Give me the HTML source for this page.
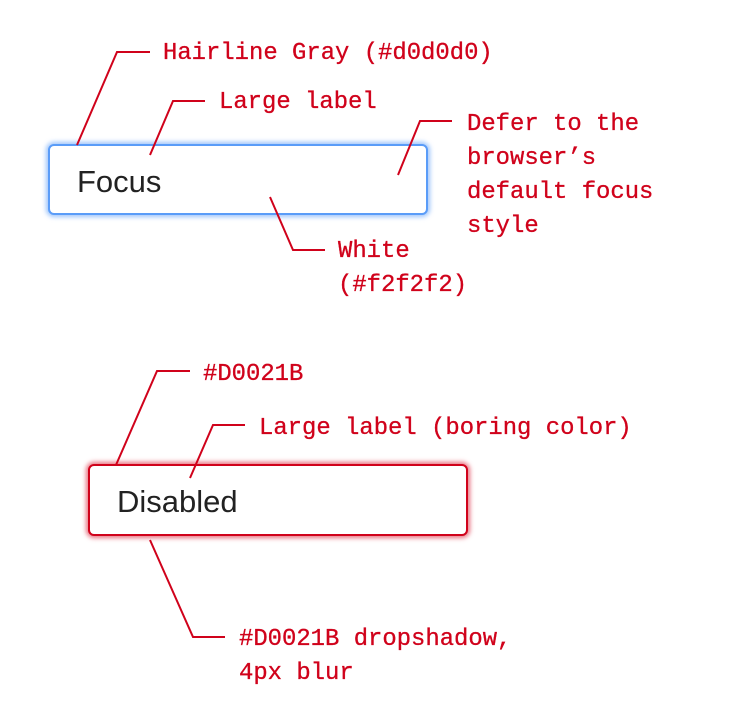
<!DOCTYPE html>
<html><head><meta charset="utf-8"><style>
html,body{margin:0;padding:0;background:#fff;}
svg{display:block}
.t{font-family:"Liberation Mono",monospace;font-size:23.9px;fill:#d0021b;stroke:#d0021b;stroke-width:0.3;}
.b{font-family:"Liberation Sans",Arial,sans-serif;font-size:31px;fill:#222;}
</style></head><body>
<svg width="740" height="718" viewBox="0 0 740 718" xmlns="http://www.w3.org/2000/svg">
<defs>
<filter id="gb" x="-10%" y="-30%" width="120%" height="160%"><feGaussianBlur stdDeviation="2.5"/></filter>
</defs>
<rect x="49" y="145" width="378" height="69" rx="5" fill="none" stroke="#9cc4fb" stroke-width="6" filter="url(#gb)"/>
<rect x="49" y="145" width="378" height="69" rx="5" fill="#fff" stroke="#5a9cf8" stroke-width="2"/>
<text class="b" x="77" y="192">Focus</text>
<rect x="89" y="465" width="378" height="70" rx="5" fill="none" stroke="#e8707f" stroke-width="6" filter="url(#gb)"/>
<rect x="89" y="465" width="378" height="70" rx="5" fill="#fff" stroke="#d0021b" stroke-width="2"/>
<text class="b" x="117" y="512">Disabled</text>
<g fill="none" stroke="#d0021b" stroke-width="2">
<polyline points="77,145 117,52 150,52"/>
<polyline points="150,155 173,101 205,101"/>
<polyline points="398,175 420,121 452,121"/>
<polyline points="270,197 293,250 325,250"/>
<polyline points="116,465 157,371 190,371"/>
<polyline points="190,478 213,425 245,425"/>
<polyline points="150,540 193,637 225,637"/>
</g>
<text class="t" x="163" y="59">Hairline Gray (#d0d0d0)</text>
<text class="t" x="219" y="108">Large label</text>
<text class="t" x="467" y="130">Defer to the</text>
<text class="t" x="467" y="164">browser’s</text>
<text class="t" x="467" y="198">default focus</text>
<text class="t" x="467" y="232">style</text>
<text class="t" x="338" y="257">White</text>
<text class="t" x="338" y="291">(#f2f2f2)</text>
<text class="t" x="203" y="380">#D0021B</text>
<text class="t" x="259" y="434">Large label (boring color)</text>
<text class="t" x="239" y="645">#D0021B dropshadow,</text>
<text class="t" x="239" y="679">4px blur</text>
</svg>
</body></html>
